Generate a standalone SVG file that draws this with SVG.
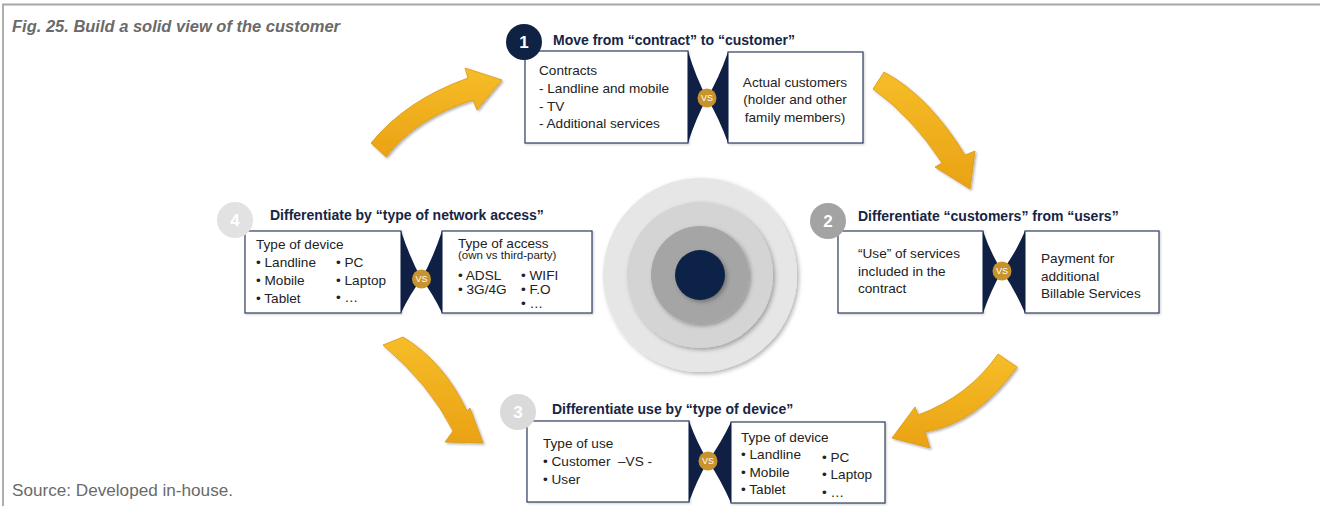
<svg xmlns="http://www.w3.org/2000/svg" width="1320" height="506" viewBox="0 0 1320 506">
<defs>
<style>
.frame{stroke:#a6a6a6;stroke-width:1.8;fill:none}
.cap{font-family:"Liberation Sans",Arial,sans-serif;fill:#6a6a6a}
.hd{font-family:"Liberation Sans",Arial,sans-serif;font-weight:bold;font-size:14px;fill:#172544}
.tx{font-family:"Liberation Sans",Arial,sans-serif;font-size:13.6px;fill:#222222}
.sm{font-family:"Liberation Sans",Arial,sans-serif;font-size:11.5px;fill:#222222}
.box{fill:#ffffff;stroke:#2d3c5e;stroke-width:1.2}
.wedge{fill:#0f2044}
.vs{fill:#c8932a}
.vst{font-family:"Liberation Sans",Arial,sans-serif;font-size:9px;fill:#ffffff;text-anchor:middle}
.num{font-family:"Liberation Sans",Arial,sans-serif;font-weight:bold;font-size:17px;fill:#ffffff;text-anchor:middle}
.arrow{fill:url(#gold);stroke:#d89812;stroke-width:0.8;filter:url(#ash)}
</style>
<linearGradient id="gold" x1="0" y1="0" x2="0" y2="1">
<stop offset="0" stop-color="#f6bd28"/>
<stop offset="1" stop-color="#eaa214"/>
</linearGradient>
<filter id="ash" x="-20%" y="-20%" width="140%" height="140%">
<feDropShadow dx="1.5" dy="1.5" stdDeviation="1.2" flood-color="#000" flood-opacity="0.3"/>
</filter>
<filter id="csh" x="-20%" y="-20%" width="140%" height="140%">
<feDropShadow dx="2" dy="2" stdDeviation="2" flood-color="#000" flood-opacity="0.3"/>
</filter>
<filter id="bsh" x="-10%" y="-10%" width="120%" height="120%">
<feDropShadow dx="1" dy="1" stdDeviation="1" flood-color="#000" flood-opacity="0.2"/>
</filter>
</defs>
<rect width="1320" height="506" fill="#ffffff"/>
<path class="frame" d="M3,506 L3,4.5 L1320,4.5"/>
<text class="cap" x="12" y="32" font-size="16" font-weight="bold" font-style="italic" textLength="328" lengthAdjust="spacingAndGlyphs">Fig. 25. Build a solid view of the customer</text>
<text class="cap" x="12" y="496" font-size="16" textLength="221" lengthAdjust="spacingAndGlyphs">Source: Developed in-house.</text>

<g id="center">
<circle cx="700" cy="275" r="97" fill="#e6e6e6" filter="url(#csh)"/>
<circle cx="700" cy="275" r="73" fill="#d4d4d4" filter="url(#csh)"/>
<circle cx="700" cy="275" r="49" fill="#a5a5a5" filter="url(#csh)"/>
<circle cx="700" cy="275" r="25" fill="#0c2146" filter="url(#csh)"/>
</g>

<g id="connectors">
<path class="arrow" d="M371,143 Q406,100 468,78 L465,68 L502,80 L477,110 L473,100 Q416,118 386,157 Z"/>
<path class="arrow" d="M884,72 Q929,96 965,155 L975,151 L970,189 L935,167 L942,163 Q912,117 873,89 Z"/>
<path class="arrow" d="M998,354 Q969,396 918,415 L915,407 L892,438 L930,448 L925,432 Q976,424 1017,367 Z"/>
<path class="arrow" d="M403,337 Q444,362 467,411 L470,408 L483,443 L445,442 L453,431 Q430,385 383,345 Z"/>
</g>

<g id="node1">
<rect class="box" x="525" y="51" width="163" height="92" filter="url(#bsh)"/>
<rect class="box" x="728" y="52" width="135" height="91" filter="url(#bsh)"/>
<path class="wedge" d="M688,51 Q696,78 707,98 Q696,118 688,143 Z"/>
<path class="wedge" d="M728,52 Q719,78 707,98 Q719,118 728,143 Z"/>
<circle class="vs" cx="707" cy="98" r="9.5"/>
<text class="vst" x="707" y="101.2">VS</text>
<circle cx="524" cy="42" r="18" fill="#0f2244"/>
<text class="num" x="524" y="48">1</text>
<text class="hd" x="553" y="45">Move from “contract” to “customer”</text>
<text class="tx" x="539" y="75">Contracts</text>
<text class="tx" x="539" y="93">- Landline and mobile</text>
<text class="tx" x="539" y="110.5">- TV</text>
<text class="tx" x="539" y="128">- Additional services</text>
<text class="tx" x="795" y="86.5" text-anchor="middle">Actual customers</text>
<text class="tx" x="795" y="104" text-anchor="middle">(holder and other</text>
<text class="tx" x="795" y="122" text-anchor="middle">family members)</text>
</g>

<g id="node2">
<rect class="box" x="838" y="231" width="145" height="82" filter="url(#bsh)"/>
<rect class="box" x="1025" y="231" width="134" height="82" filter="url(#bsh)"/>
<path class="wedge" d="M983,231 Q991,254 1002,271 Q991,290 983,313 Z"/>
<path class="wedge" d="M1025,231 Q1015,254 1002,271 Q1015,290 1025,313 Z"/>
<circle class="vs" cx="1002" cy="271" r="9.5"/>
<text class="vst" x="1002" y="274.2">VS</text>
<circle cx="828" cy="221" r="18" fill="#a3a3a3"/>
<text class="num" x="828" y="227">2</text>
<text class="hd" x="858" y="221">Differentiate “customers” from “users”</text>
<text class="tx" x="858" y="258">“Use” of services</text>
<text class="tx" x="858" y="276">included in the</text>
<text class="tx" x="858" y="293">contract</text>
<text class="tx" x="1041" y="263">Payment for</text>
<text class="tx" x="1041" y="281">additional</text>
<text class="tx" x="1041" y="298">Billable Services</text>
</g>

<g id="node3">
<rect class="box" x="527" y="421" width="162" height="81" filter="url(#bsh)"/>
<rect class="box" x="731" y="422" width="154" height="81" filter="url(#bsh)"/>
<path class="wedge" d="M689,421 Q697,443 708,461 Q697,480 689,502 Z"/>
<path class="wedge" d="M731,422 Q721,443 708,461 Q721,480 731,503 Z"/>
<circle class="vs" cx="708" cy="461" r="9.5"/>
<text class="vst" x="708" y="464.2">VS</text>
<circle cx="518" cy="412" r="18" fill="#dadada"/>
<text class="num" x="518" y="418">3</text>
<text class="hd" x="552" y="414">Differentiate use by “type of device”</text>
<text class="tx" x="543" y="447.5">Type of use</text>
<text class="tx" x="543" y="466">• Customer&#160; –VS -</text>
<text class="tx" x="543" y="484">• User</text>
<text class="tx" x="741" y="441.5">Type of device</text>
<text class="tx" x="741" y="459">• Landline</text>
<text class="tx" x="741" y="476.5">• Mobile</text>
<text class="tx" x="741" y="494">• Tablet</text>
<text class="tx" x="822" y="461.5">• PC</text>
<text class="tx" x="822" y="479">• Laptop</text>
<text class="tx" x="822" y="496.5">• …</text>
</g>

<g id="node4">
<rect class="box" x="245" y="231" width="156" height="82" filter="url(#bsh)"/>
<rect class="box" x="442" y="231" width="150" height="82" filter="url(#bsh)"/>
<path class="wedge" d="M401,231 Q410,258 421.5,279 Q410,294 401,313 Z"/>
<path class="wedge" d="M442,231 Q433,258 421.5,279 Q433,294 442,313 Z"/>
<circle class="vs" cx="421.5" cy="279" r="9.5"/>
<text class="vst" x="421.5" y="282.2">VS</text>
<circle cx="235" cy="220" r="18" fill="#e2e2e2"/>
<text class="num" x="235" y="226">4</text>
<text class="hd" x="270" y="220">Differentiate by “type of network access”</text>
<text class="tx" x="256" y="249">Type of device</text>
<text class="tx" x="256" y="266.5">• Landline</text>
<text class="tx" x="256" y="284.5">• Mobile</text>
<text class="tx" x="256" y="302.5">• Tablet</text>
<text class="tx" x="336" y="266.5">• PC</text>
<text class="tx" x="336" y="284.5">• Laptop</text>
<text class="tx" x="336" y="302">• …</text>
<text class="tx" x="458" y="247.5" font-size="14">Type of access</text>
<text class="sm" x="458" y="259">(own vs third-party)</text>
<text class="tx" x="458" y="280">• ADSL</text>
<text class="tx" x="458" y="294">• 3G/4G</text>
<text class="tx" x="521" y="280">• WIFI</text>
<text class="tx" x="521" y="294">• F.O</text>
<text class="tx" x="521" y="308">• …</text>
</g>
</svg>
